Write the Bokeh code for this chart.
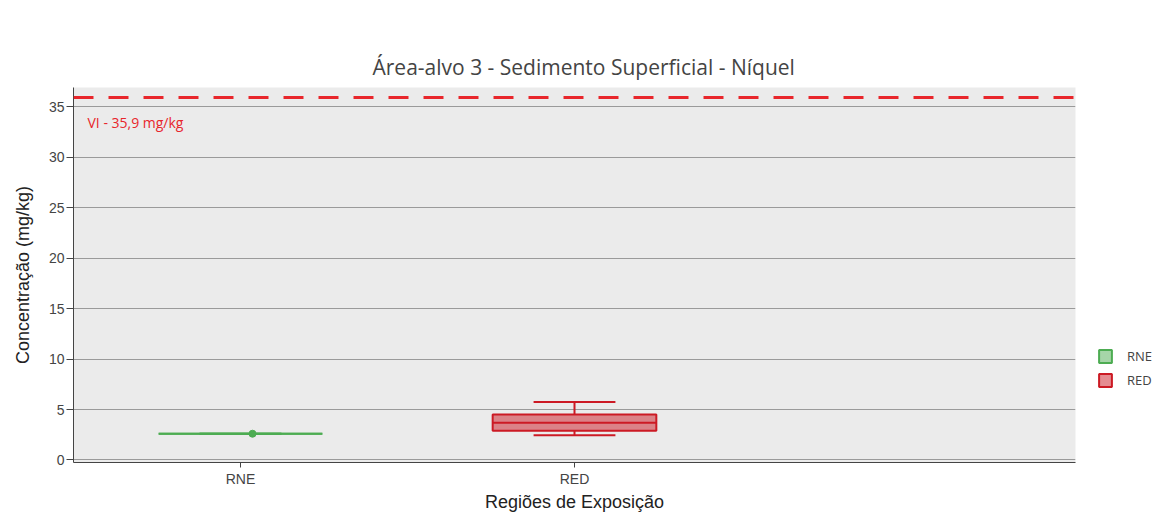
from bokeh.plotting import figure
from bokeh.models import (ColumnDataSource, Range1d, FixedTicker, Span, Label,
                          Legend, LegendItem, LinearAxis)
from bokeh.embed import file_html
from bokeh.resources import INLINE

# ---- data ----
categories = ["RNE", "RED"]
lower = [2.6, 2.45]
q1 = [2.6, 2.9]
median = [2.6, 3.7]
q3 = [2.6, 4.5]
upper = [2.6, 5.75]
line_colors = ["#4dac52", "#cc1a24"]
rne_points = [2.6]
vi_value = 35.9
vi_text = "VI - 35,9 mg/kg"
title_text = "Área-alvo 3 - Sedimento Superficial -  Níquel"
y_ticks = [0, 5, 10, 15, 20, 25, 30, 35]

xs = list(range(len(categories)))
box_w = 0.49
cap_w = box_w / 2

FW, FH = 1002, 375

p = figure(frame_width=FW, frame_height=FH, output_backend="svg", toolbar_location=None,
           x_range=Range1d(-0.5, 2.5), y_range=Range1d(-0.25, 36.9),
           min_border_left=73, min_border_right=79, min_border_top=87,
           min_border_bottom=51)

p.title.text = title_text
p.title.align = "left"
p.title.offset = 299
p.title.vertical_align = "top"
p.title.standoff = 10
p.title.text_font = "Open Sans"
p.title.text_font_size = "21px"
p.title.text_font_style = "normal"
p.title.text_color = "#444444"

p.background_fill_color = "#ebebeb"
p.border_fill_color = "white"
p.outline_line_color = None
p.xgrid.grid_line_color = None
p.ygrid.grid_line_color = "#9a9a9a"
p.ygrid.grid_line_width = 1

xax = p.below[0]
yax = p.left[0]
xax.ticker = FixedTicker(ticks=xs)
xax.major_label_overrides = {i: c for i, c in zip(xs, categories)}
yax.ticker = FixedTicker(ticks=y_ticks)
p.ygrid.ticker = FixedTicker(ticks=y_ticks)

for ax in (xax, yax):
    ax.axis_line_color = "#444444"
    ax.major_tick_line_color = "#444444"
    ax.minor_tick_line_color = None
    ax.major_tick_in = 0
    ax.major_label_text_font = "Liberation Sans"
    ax.major_label_text_font_size = "14px"
    ax.major_label_text_color = "#444444"
    ax.axis_label_text_font = "Liberation Sans"
    ax.axis_label_text_font_size = "18px"
    ax.axis_label_text_font_style = "normal"
    ax.axis_label_text_color = "#222222"

xax.axis_label = "Regiões de Exposição"
xax.major_tick_out = 5
xax.major_label_standoff = 3
xax.axis_label_standoff = 2
yax.axis_label = "Concentração (mg/kg)"
yax.major_tick_out = 7
yax.major_label_standoff = 2
yax.axis_label_standoff = 13

# invisible top axis used only as a spacer between title and plot area
spacer = LinearAxis(ticker=FixedTicker(ticks=[]), axis_line_color=None,
                    major_tick_line_color=None, minor_tick_line_color=None,
                    major_tick_in=0, major_tick_out=39, minor_tick_out=0,
                    major_label_standoff=0)
p.add_layout(spacer, "above")

src = ColumnDataSource(dict(x=xs, lower=lower, q1=q1, median=median, q3=q3,
                            upper=upper, color=line_colors,
                            x0=[x - box_w / 2 for x in xs], x1=[x + box_w / 2 for x in xs],
                            c0=[x - cap_w / 2 for x in xs], c1=[x + cap_w / 2 for x in xs]))

renderers = []
for i, c in enumerate(categories):
    s = ColumnDataSource(dict(x=[xs[i]], top=[q3[i]], bottom=[q1[i]]))
    r = p.vbar(x="x", top="top", bottom="bottom", width=box_w, source=s,
               fill_color=line_colors[i], fill_alpha=0.5,
               line_color=line_colors[i], line_width=2)
    renderers.append(r)

# whiskers
p.segment(x0="x", y0="q3", x1="x", y1="upper", source=src, line_color="color", line_width=2)
p.segment(x0="x", y0="q1", x1="x", y1="lower", source=src, line_color="color", line_width=2)
# caps
p.segment(x0="c0", y0="upper", x1="c1", y1="upper", source=src, line_color="color", line_width=2)
p.segment(x0="c0", y0="lower", x1="c1", y1="lower", source=src, line_color="color", line_width=2)
# median
p.segment(x0="x0", y0="median", x1="x1", y1="median", source=src, line_color="color", line_width=2)

# RNE sample point (slight jitter)
jitter = 0.036
p.scatter(x=[xs[0] + jitter] * len(rne_points), y=rne_points, size=7,
          fill_color=line_colors[0], line_color=line_colors[0])

# VI threshold
p.add_layout(Span(location=vi_value, dimension="width", line_color="#e8262b",
                  line_width=3, line_dash="20 15"))
p.add_layout(Label(x=-0.5, y=vi_value, x_offset=14, y_offset=-15, text=vi_text,
                   text_baseline="top", text_font="Open Sans", text_font_size="14px",
                   text_color="#e8262b"))

legend = Legend(items=[LegendItem(label=c, renderers=[r]) for c, r in zip(categories, renderers)],
                location=(22, 73), orientation="vertical",
                glyph_width=16, glyph_height=16, label_height=16, spacing=6,
                padding=0, margin=0, label_standoff=14, label_text_font="Open Sans",
                label_text_font_size="13px", label_text_color="#444444",
                border_line_color=None, background_fill_alpha=0)
p.add_layout(legend, "right")

open("out.html", "w").write(file_html(p, INLINE))
